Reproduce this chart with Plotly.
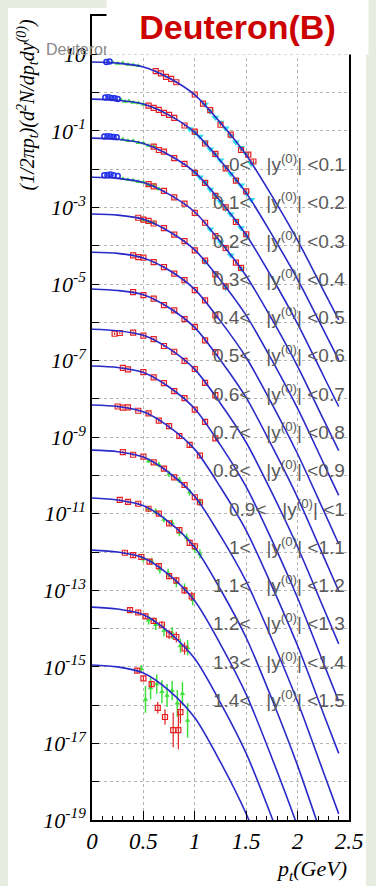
import plotly.graph_objects as go

# ---------------- data (log10 of invariant yield, each rapidity bin scaled by 10^-k) -------------
bin_lo = ["0", "0.1", "0.2", "0.3", "0.4", "0.5", "0.6", "0.7", "0.8", "0.9", "1", "1.1", "1.2", "1.3", "1.4"]
bin_hi = ["0.1", "0.2", "0.3", "0.4", "0.5", "0.6", "0.7", "0.8", "0.9", "1", "1.1", "1.2", "1.3", "1.4", "1.5"]

fit_pt = [0, 0.25, 0.5, 0.75, 1.0, 1.25, 1.5, 1.75, 2.0, 2.25, 2.4]
fit_b00 = [0.80, 0.77, 0.67, 0.38, -0.06, -0.79, -1.63, -2.70, -3.86, -5.16, -5.94]
fit_b01 = [-0.17, -0.20, -0.30, -0.59, -1.04, -1.78, -2.62, -3.71, -4.88, -6.19, -6.98]
fit_b02 = [-1.19, -1.22, -1.33, -1.63, -2.08, -2.84, -3.72, -4.83, -6.04, -7.39, -8.20]
fit_b03 = [-2.21, -2.24, -2.35, -2.66, -3.12, -3.90, -4.79, -5.92, -7.15, -8.53, -9.35]
fit_b04 = [-3.17, -3.20, -3.31, -3.63, -4.11, -4.90, -5.82, -6.99, -8.25, -9.67, -10.52]
fit_b05 = [-4.17, -4.20, -4.32, -4.64, -5.14, -5.97, -6.92, -8.13, -9.44, -10.90, -11.79]
fit_b06 = [-5.13, -5.17, -5.28, -5.62, -6.14, -6.99, -7.97, -9.23, -10.58, -12.10, -13.02]
fit_b07 = [-6.18, -6.22, -6.34, -6.69, -7.23, -8.12, -9.14, -10.45, -11.87, -13.45, -14.40]
fit_b08 = [-7.14, -7.18, -7.31, -7.69, -8.26, -9.21, -10.30, -11.69, -13.20, -14.89, -15.90]
fit_b09 = [-8.16, -8.20, -8.34, -8.73, -9.32, -10.31, -11.44, -12.89, -14.45, -16.21, -17.26]
fit_b10 = [-9.34, -9.38, -9.52, -9.93, -10.55, -11.58, -12.77, -14.28, -15.91, -17.74, -18.84]
fit_b11 = [-10.59, -10.64, -10.79, -11.22, -11.88, -12.98, -14.24, -15.84, -17.58, -19.53, -20.70]
fit_b12 = [-11.95, -12.00, -12.15, -12.60, -13.28, -14.41, -15.72, -17.38, -19.17, -21.19, -22.40]
fit_b13 = [-13.44, -13.49, -13.64, -14.10, -14.79, -15.94, -17.26, -18.94, -20.76, -22.80, -24.02]
fit_b14 = [-14.95, -15.00, -15.16, -15.62, -16.33, -17.49, -18.84, -20.55, -22.41, -24.49, -25.73]
fits = [fit_b00, fit_b01, fit_b02, fit_b03, fit_b04, fit_b05, fit_b06, fit_b07,
        fit_b08, fit_b09, fit_b10, fit_b11, fit_b12, fit_b13, fit_b14]

# red open squares
red_pt = [0.62, 0.67, 0.72, 0.77, 0.82, 1.0, 1.08, 1.15, 1.25, 1.35, 1.45, 1.52, 1.57,
          0.55, 0.6, 0.65, 0.7, 0.75, 0.8, 0.9, 1.0, 1.1, 1.2, 1.3, 1.4, 1.5,
          0.6, 0.65, 0.7, 0.8, 0.9, 1.0, 1.1, 1.2, 1.3, 1.4, 1.5,
          0.55, 0.6, 0.7, 0.8, 0.9, 1.0, 1.1, 1.2, 1.3, 1.4, 1.45,
          0.45, 0.5, 0.55, 0.6, 0.7, 0.8, 0.9, 1.0, 1.1, 1.2, 1.3,
          0.4, 0.45, 0.5, 0.6, 0.7, 0.8, 0.9, 1.0, 1.1, 1.2,
          0.4, 0.5, 0.6, 0.7, 0.8, 0.9, 1.0, 1.1, 1.2,
          0.22, 0.27, 0.4, 0.5, 0.6, 0.7, 0.8, 0.9, 1.0, 1.1, 1.2,
          0.3, 0.35, 0.5, 0.6, 0.7, 0.8, 0.9, 1.0, 1.1, 1.2,
          0.25, 0.3, 0.35, 0.45, 0.55, 0.65, 0.75, 0.85, 0.95, 1.05,
          0.3, 0.4, 0.5, 0.6, 0.7, 0.8, 0.9, 1.0, 1.05,
          0.27, 0.35, 0.45, 0.55, 0.65, 0.75, 0.85, 0.95, 1.0,
          0.32, 0.4, 0.48, 0.56, 0.65, 0.75, 0.82, 0.9, 0.97,
          0.37, 0.45, 0.52, 0.6, 0.68, 0.75, 0.82, 0.9,
          0.44, 0.5, 0.58, 0.64, 0.71, 0.79, 0.84, 0.86]
red_log = [0.56, 0.50, 0.41, 0.36, 0.27, -0.05, -0.29, -0.46, -0.84, -1.10, -1.50, -1.62, -1.80,
           -0.34, -0.40, -0.45, -0.53, -0.58, -0.66, -0.86, -1.02, -1.33, -1.60, -1.98, -2.30, -2.58,
           -1.41, -1.50, -1.54, -1.71, -1.86, -2.10, -2.36, -2.70, -3.00, -3.38, -3.70,
           -2.39, -2.45, -2.57, -2.74, -2.90, -3.14, -3.40, -3.75, -4.06, -4.44, -4.58,
           -3.27, -3.32, -3.35, -3.42, -3.54, -3.71, -3.88, -4.12, -4.39, -4.75, -5.06,
           -4.25, -4.30, -4.31, -4.43, -4.56, -4.73, -4.90, -5.16, -5.43, -5.82,
           -5.21, -5.29, -5.38, -5.55, -5.69, -5.92, -6.12, -6.47, -6.78,
           -6.30, -6.28, -6.27, -6.35, -6.44, -6.62, -6.77, -7.01, -7.22, -7.58, -7.90,
           -7.19, -7.23, -7.30, -7.44, -7.59, -7.80, -7.98, -8.28, -8.60, -9.03,
           -8.20, -8.23, -8.22, -8.31, -8.38, -8.57, -8.71, -8.97, -9.20, -9.48,
           -9.39, -9.46, -9.51, -9.66, -9.82, -10.05, -10.25, -10.57, -10.70,
           -10.64, -10.69, -10.74, -10.87, -11.00, -11.25, -11.43, -11.76, -11.85,
           -12.02, -12.08, -12.13, -12.25, -12.37, -12.63, -12.74, -13.00, -13.16,
           -13.52, -13.58, -13.68, -13.80, -13.90, -14.15, -14.22, -14.52,
           -15.10, -15.30, -15.45, -16.07, -16.31, -16.65, -16.65, -16.18]
red_err = [0.03, 0.03, 0.03, 0.03, 0.03, 0.03, 0.03, 0.03, 0.04, 0.04, 0.05, 0.05, 0.06,
           0.03, 0.03, 0.03, 0.03, 0.03, 0.03, 0.03, 0.03, 0.04, 0.04, 0.05, 0.05, 0.06,
           0.03, 0.03, 0.03, 0.03, 0.03, 0.03, 0.04, 0.04, 0.05, 0.05, 0.06,
           0.03, 0.03, 0.03, 0.03, 0.03, 0.03, 0.04, 0.04, 0.05, 0.05, 0.06,
           0.03, 0.03, 0.03, 0.03, 0.03, 0.03, 0.03, 0.04, 0.04, 0.05, 0.06,
           0.03, 0.03, 0.03, 0.03, 0.03, 0.03, 0.04, 0.04, 0.05, 0.06,
           0.03, 0.03, 0.03, 0.03, 0.03, 0.04, 0.04, 0.05, 0.06,
           0.03, 0.03, 0.03, 0.03, 0.03, 0.03, 0.04, 0.04, 0.05, 0.05, 0.06,
           0.03, 0.03, 0.03, 0.03, 0.03, 0.04, 0.04, 0.05, 0.05, 0.06,
           0.03, 0.03, 0.03, 0.03, 0.04, 0.04, 0.05, 0.05, 0.06, 0.07,
           0.03, 0.03, 0.04, 0.04, 0.05, 0.05, 0.06, 0.07, 0.08,
           0.04, 0.04, 0.04, 0.05, 0.05, 0.06, 0.07, 0.08, 0.09,
           0.04, 0.05, 0.05, 0.06, 0.07, 0.08, 0.09, 0.10, 0.12,
           0.05, 0.06, 0.07, 0.08, 0.10, 0.12, 0.14, 0.16,
           0.06, 0.07, 0.09, 0.15, 0.20, 0.45, 0.50, 0.30]

# green points
green_pt = [0.2, 0.25, 0.3, 0.35, 0.4, 0.45,
            0.28, 0.32, 0.36, 0.40, 0.45, 0.5,
            0.3, 0.35, 0.4, 0.45, 0.5, 0.55, 0.6,
            0.3, 0.35, 0.4, 0.45, 0.5, 0.55, 0.6, 0.65,
            0.5, 0.55, 0.6,
            0.55, 0.65, 0.75, 0.85, 0.95, 1.05,
            0.55, 0.62, 0.7, 0.78, 0.85, 0.92, 1.0, 1.05,
            0.5, 0.58, 0.66, 0.74, 0.82, 0.9, 0.98,
            0.55, 0.62, 0.7, 0.78, 0.86, 0.93,
            0.48, 0.52, 0.57, 0.63, 0.68, 0.73, 0.78, 0.83, 0.88, 0.93]
green_log = [0.79, 0.76, 0.77, 0.73, 0.72, 0.70,
             -0.19, -0.23, -0.22, -0.26, -0.27, -0.31,
             -1.22, -1.26, -1.26, -1.31, -1.32, -1.38, -1.41,
             -2.25, -2.28, -2.29, -2.33, -2.34, -2.41, -2.43, -2.52,
             -3.33, -3.38, -3.40,
             -9.62, -9.72, -9.96, -10.12, -10.44, -10.70,
             -10.88, -10.94, -11.15, -11.24, -11.49, -11.62, -11.92, -12.05,
             -12.18, -12.24, -12.46, -12.55, -12.80, -12.95, -13.25,
             -13.78, -13.90, -14.05, -14.12, -14.45, -14.50,
             -15.05, -15.85, -15.55, -15.45, -15.65, -15.75, -15.62, -15.95, -15.70, -16.40]
green_err = [0.02, 0.02, 0.02, 0.02, 0.02, 0.02,
             0.02, 0.02, 0.02, 0.02, 0.02, 0.02,
             0.02, 0.02, 0.02, 0.02, 0.02, 0.02, 0.02,
             0.02, 0.02, 0.02, 0.02, 0.02, 0.02, 0.02, 0.02,
             0.03, 0.03, 0.03,
             0.06, 0.07, 0.08, 0.08, 0.09, 0.10,
             0.07, 0.08, 0.08, 0.09, 0.10, 0.10, 0.11, 0.12,
             0.08, 0.09, 0.10, 0.11, 0.12, 0.13, 0.14,
             0.12, 0.14, 0.15, 0.16, 0.18, 0.20,
             0.10, 0.35, 0.30, 0.25, 0.30, 0.30, 0.25, 0.35, 0.30, 0.45]

# blue points (low pt)
blue_pt = [0.14, 0.17,
           0.13, 0.16, 0.19, 0.22, 0.25,
           0.12, 0.15, 0.18, 0.21, 0.24,
           0.12, 0.15, 0.18, 0.21, 0.25]
blue_log = [0.80, 0.81,
            -0.13, -0.12, -0.14, -0.15, -0.17,
            -1.15, -1.14, -1.15, -1.16, -1.17,
            -2.16, -2.15, -2.14, -2.16, -2.18]

# cyan points (high pt)
cyan_pt = [1.1, 1.15, 1.2, 1.25, 1.3, 1.35, 1.4, 1.45, 1.5, 1.55,
           0.95, 1.0, 1.05, 1.1, 1.15, 1.2, 1.25, 1.3, 1.35, 1.4, 1.45, 1.5, 1.55,
           1.0, 1.05, 1.1, 1.15, 1.2, 1.25, 1.3, 1.35, 1.4, 1.45, 1.5,
           1.15, 1.25, 1.35, 1.45,
           1.1, 1.2, 1.3]
cyan_log = [-0.31, -0.49, -0.65, -0.78, -0.93, -1.13, -1.30, -1.44, -1.60, -1.86,
            -0.95, -1.05, -1.15, -1.30, -1.48, -1.62, -1.77, -1.94, -2.13, -2.28, -2.42, -2.63, -2.80,
            -2.09, -2.21, -2.35, -2.53, -2.69, -2.86, -3.03, -3.18, -3.34, -3.54, -3.73,
            -3.57, -3.91, -4.25, -4.60,
            -4.42, -4.71, -5.10]

y_tick_exp = [1, -1, -3, -5, -7, -9, -11, -13, -15, -17, -19]
x_ticks = [0, 0.5, 1, 1.5, 2, 2.5]

# ---------------- figure ----------------
W, H = 376, 886
L, R, T, B = 92, 27, 16, 66
pw, ph = W - L - R, H - T - B


def px_x(px):
    return (px - L) / pw


def px_y(py):
    return (H - B - py) / ph


fig = go.Figure()


def lin(vals):
    return [10 ** v for v in vals]


def errs(vals, e):
    ys = lin(vals)
    up = [y * (10 ** d - 1) for y, d in zip(ys, e)]
    dn = [y * (1 - 10 ** (-d)) for y, d in zip(ys, e)]
    return up, dn


up, dn = errs(green_log, green_err)
fig.add_trace(go.Scatter(x=green_pt, y=lin(green_log), mode="markers",
                         marker=dict(symbol="triangle-up", size=5, color="#3ee03e"),
                         error_y=dict(type="data", array=up, arrayminus=dn, symmetric=False,
                                      color="#3ee03e", thickness=1.5, width=0),
                         showlegend=False))
fig.add_trace(go.Scatter(x=cyan_pt, y=lin(cyan_log), mode="markers",
                         marker=dict(symbol="triangle-down", size=7, color="#30e0e8"),
                         showlegend=False))
up, dn = errs(red_log, red_err)
fig.add_trace(go.Scatter(x=red_pt, y=lin(red_log), mode="markers",
                         marker=dict(symbol="square-open", size=5, color="#e42020",
                                     line=dict(width=1.2, color="#e42020")),
                         error_y=dict(type="data", array=up, arrayminus=dn, symmetric=False,
                                      color="#e42020", thickness=1.2, width=0),
                         showlegend=False))
fig.add_trace(go.Scatter(x=blue_pt, y=lin(blue_log), mode="markers",
                         marker=dict(symbol="circle-open", size=5, color="#2233ee",
                                     line=dict(width=1.5, color="#2233ee")),
                         showlegend=False))

for f in fits:
    fig.add_trace(go.Scatter(x=fit_pt, y=lin(f), mode="lines",
                             line=dict(color="#2a2ac8", width=1.6, shape="spline", smoothing=0.8),
                             showlegend=False, cliponaxis=True))

NB = "\u00a0"
annotations = []
for k, (lo, hi) in enumerate(zip(bin_lo, bin_hi)):
    annotations.append(dict(
        x=2.485, y=-1.84 - k, xref="x", yref="y", xanchor="right", yanchor="middle",
        text=f"{lo}<{NB}{NB}{NB}|y<sup>(0)</sup>|{NB}<{hi}", showarrow=False,
        font=dict(family="Liberation Sans", size=19, color="#5a5a5a")))

# axis titles
annotations.append(dict(
    x=px_x(349), y=px_y(870), xref="paper", yref="paper", xanchor="right", yanchor="middle",
    text="<i>p<sub>t</sub>(GeV)</i>", showarrow=False,
    font=dict(family="Liberation Serif", size=22, color="black")))
annotations.append(dict(
    x=px_x(27), y=px_y(18), xref="paper", yref="paper", xanchor="center", yanchor="top",
    text="<i>(1/2πp<sub>t</sub>)(d<sup>2</sup>N/dp<sub>t</sub>dy<sup>(0)</sup>)</i>",
    textangle=-90, showarrow=False,
    font=dict(family="Liberation Serif", size=20, color="black")))
# faint underlying label and title box
annotations.append(dict(
    x=px_x(44), y=px_y(50), xref="paper", yref="paper", xanchor="left", yanchor="middle",
    text="Deuteron", showarrow=False,
    font=dict(family="Liberation Sans", size=16, color="#8a8a8a")))
annotations.append(dict(
    x=px_x(237.5), y=px_y(27), xref="paper", yref="paper", xanchor="center", yanchor="middle",
    text="<b>Deuteron(B)</b>", showarrow=False, bgcolor="white", width=259, height=52,
    borderpad=1, font=dict(family="Liberation Sans", size=34, color="#cc0000")))

shapes = [dict(type="rect", xref="paper", yref="paper", x0=px_x(8), x1=px_x(366),
               y0=px_y(H + 5), y1=px_y(8), fillcolor="white", line=dict(width=0), layer="below")]

fig.update_layout(
    width=W, height=H, autosize=False,
    margin=dict(l=L, r=R, t=T, b=B),
    paper_bgcolor="#e6ede0", plot_bgcolor="white",
    annotations=annotations, shapes=shapes,
    xaxis=dict(range=[0, 2.5], tickvals=x_ticks,
               ticktext=[f"<i>{v:g}</i>" for v in x_ticks],
               tickfont=dict(family="Liberation Serif", size=23, color="black"),
               ticks="inside", ticklen=9, tickwidth=1, tickcolor="black",
               minor=dict(dtick=0.1, ticks="inside", ticklen=4, tickcolor="black", showgrid=False),
               showline=True, linecolor="black", linewidth=1.5, mirror=True,
               showgrid=True, gridcolor="#b4b4b4", griddash="dot", gridwidth=1,
               zeroline=False),
    yaxis=dict(type="log", range=[-19, 2],
               tickvals=[10 ** e for e in y_tick_exp],
               ticktext=[f"<i>10<sup>{e}</sup></i>" if e != 1 else "<i>10</i>" for e in y_tick_exp],
               tickfont=dict(family="Liberation Serif", size=22, color="black"),
               ticks="inside", ticklen=7, tickcolor="black",
               minor=dict(tickvals=[10 ** e for e in range(-18, 2, 2)], ticks="inside", ticklen=7,
                          tickcolor="black", showgrid=True, gridcolor="#b4b4b4", griddash="dot"),
               showline=True, linecolor="black", linewidth=1.5, mirror=True,
               showgrid=True, gridcolor="#b4b4b4", griddash="dot", gridwidth=1,
               zeroline=False),
)

fig.write_html("out.html")
